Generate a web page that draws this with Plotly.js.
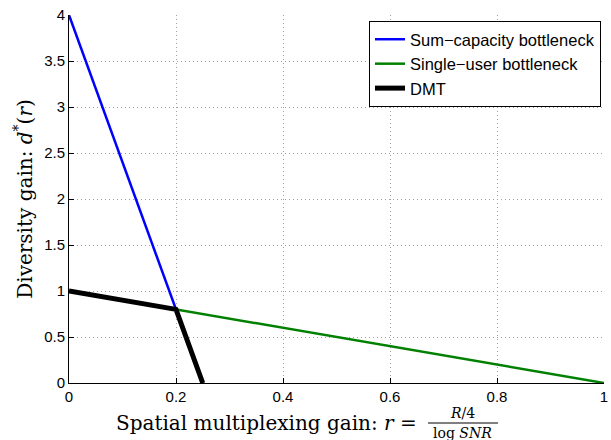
<!DOCTYPE html>
<html>
<head>
<meta charset="utf-8">
<script src="https://cdn.plot.ly/plotly-3.0.1.min.js"></script>
<style>html,body{margin:0;padding:0;background:#fff;}#chart{width:611px;height:440px;}</style>
</head>
<body>
<div id="chart"></div>
<script>
const seriesNames = ["Sum\u2212capacity bottleneck", "Single\u2212user bottleneck", "DMT"];
const sumCapX = [0, 0.25];
const sumCapY = [4, 0];
const singleX = [0, 1];
const singleY = [1, 0];
const dmtX = [0, 0.2, 0.25];
const dmtY = [1, 0.8, 0];
const xTicks = [0, 0.2, 0.4, 0.6, 0.8, 1];
const xTickLabels = ["0", "0.2", "0.4", "0.6", "0.8", "1"];
const yTicks = [0, 0.5, 1, 1.5, 2, 2.5, 3, 3.5, 4];
const yTickLabels = ["0", "0.5", "1", "1.5", "2", "2.5", "3", "3.5", "4"];

const traces = [
  {x: sumCapX, y: sumCapY, mode: "lines", name: seriesNames[0], line: {color: "#0000ff", width: 2.5}},
  {x: singleX, y: singleY, mode: "lines", name: seriesNames[1], line: {color: "#008000", width: 2.5}},
  {x: dmtX, y: dmtY, mode: "lines", name: seriesNames[2], line: {color: "#000000", width: 5}}
];

const serif = "DejaVu Serif, serif";
const sans = "Liberation Sans, Arial, sans-serif";

const axisCommon = {
  showline: true, linecolor: "#000", linewidth: 1,
  ticks: "inside", ticklen: 5, tickcolor: "#000",
  showgrid: true, gridcolor: "#a0a0a0", griddash: "1px,3px", gridwidth: 1,
  zeroline: false, mirror: false,
  tickfont: {family: sans, size: 15, color: "#000"}
};

const layout = {
  width: 611, height: 440,
  margin: {l: 69, r: 7, t: 15, b: 57},
  paper_bgcolor: "#fff", plot_bgcolor: "#fff",
  showlegend: true,
  legend: {
    x: 0.9944, xanchor: "right", y: 0.9837, yanchor: "top",
    bgcolor: "#fff", bordercolor: "#000", borderwidth: 1,
    font: {family: sans, size: 16.5, color: "#000"},
    tracegroupgap: 0, itemwidth: 30
  },
  xaxis: Object.assign({}, axisCommon, {
    range: [0, 1], tickvals: xTicks, ticktext: xTickLabels
  }),
  yaxis: Object.assign({}, axisCommon, {
    range: [0, 4], tickvals: yTicks, ticktext: yTickLabels,
    title: {text: "Diversity gain: <i>d</i><sup>*</sup>(<i>r</i>)", font: {family: serif, size: 20, color: "#000"}, standoff: 6}
  }),
  annotations: [
    {xref: "paper", yref: "paper", x: 0.652, y: -0.1087, xanchor: "right", yanchor: "middle",
     text: "Spatial multiplexing gain: <i>r</i> =", showarrow: false, borderpad: 0,
     font: {family: serif, size: 20, color: "#000"}},
    {xref: "paper", yref: "paper", x: 0.7364, y: -0.106, xanchor: "center", yanchor: "bottom",
     text: "<i>R</i>/4", showarrow: false, borderpad: 0, font: {family: serif, size: 14, color: "#000"}},
    {xref: "paper", yref: "paper", x: 0.7364, y: -0.1114, xanchor: "center", yanchor: "top",
     text: "log <i>SNR</i>", showarrow: false, borderpad: 0, font: {family: serif, size: 14, color: "#000"}}
  ],
  shapes: [
    {type: "line", xref: "paper", yref: "paper", x0: 0.671, x1: 0.802, y0: -0.1087, y1: -0.1087,
     line: {color: "#000", width: 1}}
  ]
};

Plotly.newPlot("chart", traces, layout, {displayModeBar: false, staticPlot: true});
</script>
</body>
</html>
